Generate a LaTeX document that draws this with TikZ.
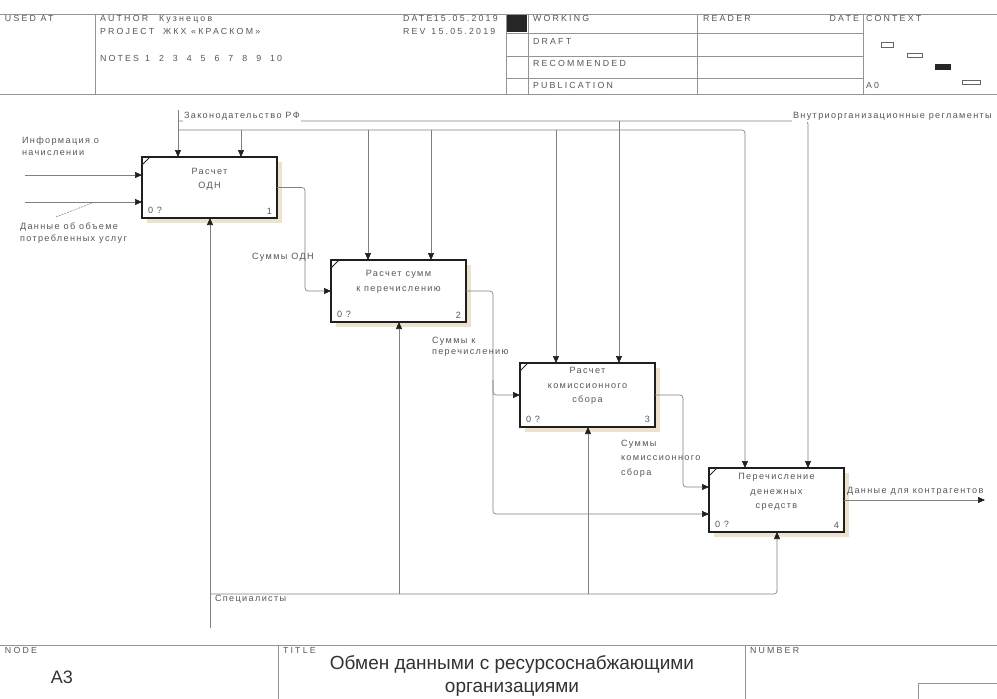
\documentclass[tikz,border=0pt]{standalone}
\usepackage{fontspec}
\setmainfont{Liberation Sans}
\newfontfamily\spacedsans[LetterSpace=15]{Liberation Sans}
\newfontfamily\widesans[LetterSpace=25]{Liberation Sans}
\newcommand\lblsz{\spacedsans\fontsize{9.1}{11.5}\selectfont}
\newcommand\boxsz{\spacedsans\fontsize{9.1}{14.5}\selectfont}
\newcommand\hdrsz{\widesans\fontsize{8.8}{10}\selectfont}
\usetikzlibrary{arrows.meta}
\definecolor{shadowc}{RGB}{236,226,206}
\begin{document}
\begin{tikzpicture}[x=1pt,y=-1pt,
  every node/.style={inner sep=0pt,outer sep=0pt,text=black!66},
  hdr/.style={font=\hdrsz,anchor=base west},
  lbl/.style={font=\lblsz,align=left},
  boxtext/.style={font=\boxsz,align=center},
  rule/.style={draw=black!42,line width=0.6pt},
  conn/.style={draw=black!50,line width=0.65pt,rounded corners=3pt},
  tip/.style={-{Triangle[length=7pt,width=6pt,color=black!88]}},
  fnbox/.style={draw=black!88,line width=2pt,fill=white,minimum width=135pt,minimum height=62pt},
  mini/.style={draw=black!60,line width=0.6pt},
]
\useasboundingbox[fill=white] (0,0) rectangle (997,699);

% ---------- header frame ----------
\draw[rule] (0,14) -- (997,14) (0,94) -- (997,94);
\draw[rule] (95,14) -- (95,94) (506,14) -- (506,94) (528,14) -- (528,94)
            (697,14) -- (697,94) (863,14) -- (863,94);
\draw[rule] (506,33) -- (863,33) (506,56) -- (863,56) (506,78) -- (863,78);
\fill[black!85] (507,15) rectangle (527,32);

\node[hdr] (usedat) at (5,21) {USED AT};
\node[hdr] (author) at (100,21) {AUTHOR};
\node[hdr] (authorv) at (159,21) {Кузнецов};
\node[hdr] (project) at (100,34) {PROJECT};
\node[hdr] (projectv) at (163,34) {ЖКХ «КРАСКОМ»};
\node[hdr] (notes) at (100,61) {NOTES\hspace{6pt}1\hspace{9pt}2\hspace{9pt}3\hspace{9pt}4\hspace{9pt}5\hspace{9pt}6\hspace{9pt}7\hspace{9pt}8\hspace{9pt}9\hspace{9pt}10};
\node[hdr] (date) at (403,21) {DATE\,15.05.2019};
\node[hdr] (rev) at (403,34) {REV\hspace{6pt}15.05.2019};
\node[hdr] (working) at (533,21) {WORKING};
\node[hdr] (draft) at (533,44) {DRAFT};
\node[hdr] (recom) at (533,66) {RECOMMENDED};
\node[hdr] (publ) at (533,88) {PUBLICATION};
\node[hdr] (reader) at (703,21) {READER};
\node[hdr,anchor=base east] (rdate) at (859,21) {DATE};
\node[hdr] (context) at (866,21) {CONTEXT};
\node[hdr] (ctxnode) at (866,88) {A0};

% context thumbnail
\draw[mini] (881,42) rectangle (893,47);
\draw[mini] (907,53) rectangle (922,57);
\fill[black!85] (935,64) rectangle (951,70);
\draw[mini] (962,80) rectangle (980,84);

% ---------- activity boxes ----------
\fill[shadowc] (147,162) rectangle (282,223);
\fill[shadowc] (336,265) rectangle (471,327);
\fill[shadowc] (525,368) rectangle (660,432);
\fill[shadowc] (714,473) rectangle (849,537);

\node[fnbox,minimum height=61pt] (b1) at (209.5,187.5) {};
\node[fnbox] (b2) at (398.5,291) {};
\node[fnbox,minimum height=64pt] (b3) at (587.5,395) {};
\node[fnbox,minimum height=64pt] (b4) at (776.5,500) {};

\foreach \b in {b1,b2,b3,b4}{
  \draw[black!85,line width=1pt] ([yshift=-8pt]\b.north west) -- ([xshift=8pt]\b.north west);
}

\node[boxtext] (b1t) at ([yshift=8pt]b1.center) {Расчет\\ОДН};
\node[boxtext] (b2t) at ([yshift=9pt]b2.center) {Расчет сумм\\к перечислению};
\node[boxtext] (b3t) at ([yshift=9pt]b3.center) {Расчет\\комиссионного\\сбора};
\node[boxtext] (b4t) at ([yshift=8pt]b4.center) {Перечисление\\денежных\\средств};

\foreach \b/\n in {b1/1,b2/2,b3/3,b4/4}{
  \node[font=\lblsz,anchor=south west] (\b c) at ([xshift=6pt,yshift=4pt]\b.south west) {0 ?};
  \node[font=\lblsz,anchor=south east] (\b n) at ([xshift=-5pt,yshift=4pt]\b.south east) {\n};
}

% ---------- inputs ----------
\coordinate (in1) at (25,175);
\coordinate (in2) at (25,202);
\draw[conn,tip] (in1) -- (b1.west |- in1);
\draw[conn,tip] (in2) -- (b1.west |- in2);
\coordinate (ldA) at (56,217);
\coordinate (ldB) at (92,203);
\draw[draw=black!50,line width=0.5pt,dash pattern=on 2pt off 1pt] (ldA) -- (ldB);
\node[lbl,anchor=north west] (inf) at (22,137) {Информация о\\начислении};
\node[lbl,anchor=north west] (usage) at (20,223) {Данные об объеме\\потребленных услуг};

% ---------- controls ----------
\coordinate (zakTop) at (178,110);
\draw[conn,tip] (zakTop) -- (zakTop |- b1.north);
\draw[conn,tip] (178,121) -- (808,121) -- (808,0 |- b4.north);
\draw[conn,tip] (178,130) -- (745,130) -- (745,0 |- b4.north);
\draw[conn,tip] (241,130) -- (241,0 |- b1.north);
\draw[conn,tip] (368,130) -- (368,0 |- b2.north);
\draw[conn,tip] (431,130) -- (431,0 |- b2.north);
\draw[conn,tip] (556,130) -- (556,0 |- b3.north);
\draw[conn,tip] (619,121) -- (619,0 |- b3.north);

\node[lbl,anchor=west,fill=white,inner ysep=2pt,inner xsep=1pt] (zak) at (183,116) {Законодательство РФ};
\node[lbl,anchor=west,fill=white,inner ysep=2pt,inner xsep=1pt] (vnutr) at (792,116) {Внутриорганизационные регламенты};

% ---------- mechanisms ----------
\coordinate (spBot) at (210,628);
\draw[conn,tip] (spBot) -- (210,0 |- b1.south);
\draw[conn,tip] (210,594) -- (777,594) -- (777,0 |- b4.south);
\draw[conn,tip] (399,594) -- (399,0 |- b2.south);
\draw[conn,tip] (588,594) -- (588,0 |- b3.south);
\node[lbl,anchor=west] (spec) at (215,599) {Специалисты};

% ---------- outputs ----------
\draw[conn,tip] (b1.east) -- (305,187.5) -- (305,291) -- (b2.west);
\draw[conn,tip] (b2.east) -- (493,291) -- (493,395) -- (b3.west);
\draw[conn,tip] (493,380) -- (493,514) -- (b4.west |- 0,514);
\draw[conn,tip] (b3.east) -- (683,395) -- (683,487) -- (b4.west |- 0,487);
\coordinate (outEnd) at (985,500);
\draw[conn,tip] (b4.east) -- (outEnd);

\node[lbl,anchor=west] (odn) at (252,257) {Суммы ОДН};
\node[lbl,anchor=north west] (sk) at (432,337) {Суммы к\\перечислению};
\node[lbl,anchor=north west,font=\boxsz] (skom) at (621,440) {Суммы\\комиссионного\\сбора};
\node[lbl,anchor=west] (kontr) at (847,491) {Данные для контрагентов};

% ---------- footer ----------
\draw[rule] (0,645) -- (997,645);
\draw[rule] (278,645) -- (278,699) (745,645) -- (745,699);
\node[hdr] (nodelbl) at (5,653) {NODE};
\node[hdr] (titlelbl) at (283,653) {TITLE};
\node[hdr] (numlbl) at (750,653) {NUMBER};
\node[font=\fontsize{18}{20}\selectfont,text=black!80] (a3) at (62,677) {A3};
\node[font=\fontsize{19}{23}\selectfont,align=center,text=black!80] (title) at (512,676)
  {Обмен данными с ресурсоснабжающими\\организациями};
\draw[rule] (918,699) -- (918,683) -- (997,683);
\end{tikzpicture}
\end{document}
